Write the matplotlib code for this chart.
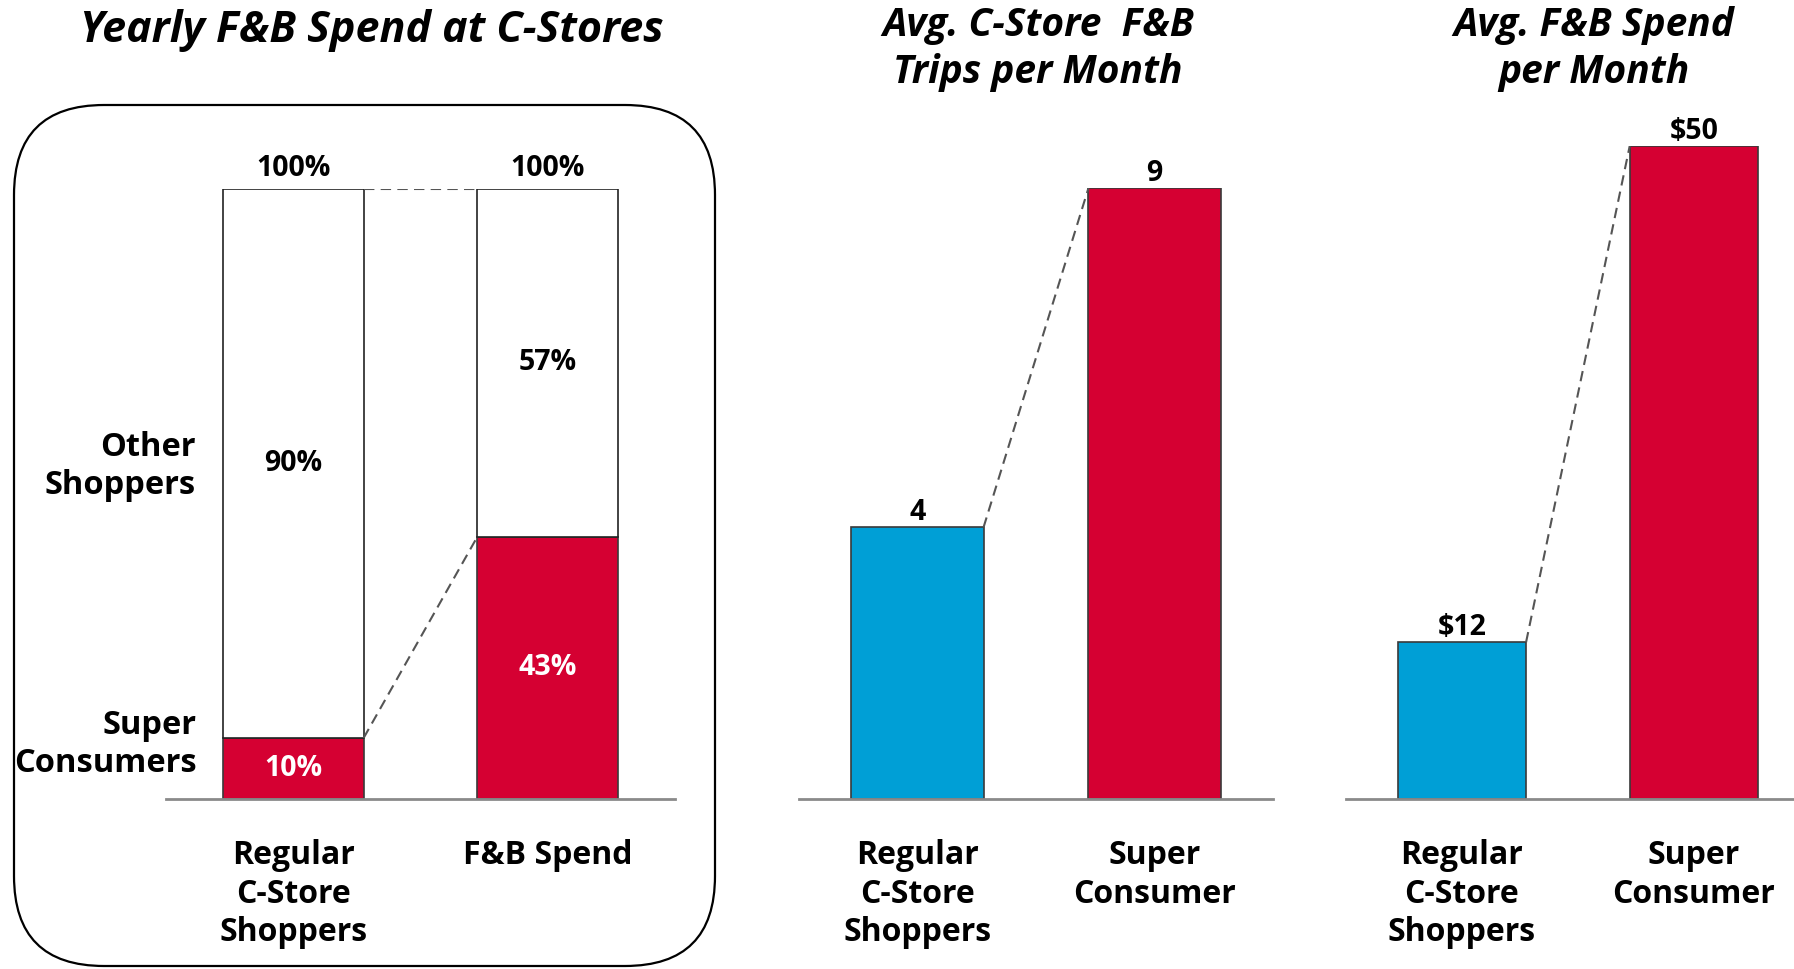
import matplotlib.pyplot as plt
from matplotlib.patches import FancyBboxPatch

plt.rcParams['font.family'] = ['Open Sans', 'DejaVu Sans']
plt.rcParams['font.weight'] = 'bold'

# data
share_cats = ["Regular\nC-Store\nShoppers", "F&B Spend"]
super_share = [10, 43]
other_share = [90, 57]
total_labels = ["100%", "100%"]

group_cats = ["Regular\nC-Store\nShoppers", "Super\nConsumer"]
trips = [4, 9]
spend = [12, 50]

RED = '#D50032'
BLUE = '#009FD6'
W, H = 1794, 969

fig = plt.figure(figsize=(W / 100, H / 100), dpi=100)

# rounded frame around first panel (pixel coords)
bg = fig.add_axes([0, 0, 1, 1])
bg.set_xlim(0, W)
bg.set_ylim(H, 0)
bg.axis('off')
bg.add_patch(FancyBboxPatch((14 + 90, 105 + 90), 701 - 180, 861 - 180,
                            boxstyle='round,pad=90', fc='none', ec='black', lw=1.6))


def px_axes(x0, x1, ybase, ytop):
    return fig.add_axes([x0 / W, (H - ybase) / H, (x1 - x0) / W, (ybase - ytop) / H])


def style(ax, cats):
    for s in ['top', 'right', 'left']:
        ax.spines[s].set_visible(False)
    ax.spines['bottom'].set_color('#8a8a8a')
    ax.spines['bottom'].set_linewidth(2)
    ax.set_yticks([])
    ax.set_xticks(range(len(cats)))
    ax.set_xticklabels(cats, fontsize=23, fontweight='bold', linespacing=1.22, va='top')
    ax.tick_params(axis='x', length=0, pad=29)
    ax.patch.set_visible(False)


# panel 1: stacked share
ax1 = px_axes(166, 675, 799, 189)
x = range(len(share_cats))
w1 = 0.553
ax1.bar(x, super_share, w1, color=RED, edgecolor='#3a3a3a', lw=1.2)
ax1.bar(x, other_share, w1, bottom=super_share, color='white', edgecolor='#222222', lw=1.2)
ax1.set_xlim(-0.5, 1.5)
ax1.set_ylim(0, 100)
style(ax1, share_cats)
for i in x:
    tot = super_share[i] + other_share[i]
    ax1.annotate(total_labels[i], (i, tot), xytext=(0, 4), textcoords='offset points',
                 ha='center', va='bottom', fontsize=20.5, fontweight='bold')
    ax1.text(i, super_share[i] / 2, f"{super_share[i]}%", ha='center', va='center',
             color='white', fontsize=20.5, fontweight='bold')
    ax1.text(i, super_share[i] + other_share[i] / 2, f"{other_share[i]}%", ha='center',
             va='center', fontsize=20.5, fontweight='bold')
ax1.plot([w1 / 2, 1 - w1 / 2], [100, 100], ls=(0, (5, 3)), color='#555555', lw=1.5)
ax1.plot([w1 / 2, 1 - w1 / 2], [super_share[0], super_share[1]], ls=(0, (5, 3)),
         color='#555555', lw=1.5)
ax1.text(-0.385, 54.5, "Other\nShoppers", ha='right', va='center', fontsize=23.5,
         fontweight='bold', linespacing=1.2)
ax1.text(-0.38, 8.9, "Super\nConsumers", ha='right', va='center', fontsize=23.5,
         fontweight='bold', linespacing=1.2)


def simple_panel(x0, x1, top_px, vals, ymax, fmt, xmax, width):
    ax = px_axes(x0, x1, 799, top_px)
    xs = range(len(vals))
    ax.bar(xs, vals, width, color=[BLUE, RED], edgecolor='#3a3a3a', lw=1.2)
    ax.set_xlim(-0.5, xmax)
    ax.set_ylim(0, ymax)
    style(ax, group_cats)
    for i in xs:
        ax.annotate(fmt.format(vals[i]), (i, vals[i]), xytext=(0, 0), textcoords='offset points',
                    ha='center', va='bottom', fontsize=20.5, fontweight='bold')
    ax.plot([width / 2, 1 - width / 2], vals, ls=(0, (5, 3)), color='#555555', lw=1.5)
    return ax


ax2 = simple_panel(799, 1273, 188, trips, 9, "{}", 1.5, 0.557)
ax3 = simple_panel(1346, 1794, 146, spend, 50, "${}", 1.432, 0.553)

# titles
tkw = dict(ha='center', va='center', fontweight='bold', style='italic')
fig.text(372 / W, 1 - 31 / H, "Yearly F&B Spend at C-Stores", fontsize=31, **tkw)
fig.text(1038 / W, 1 - 49 / H, "Avg. C-Store  F&B\nTrips per Month", fontsize=28,
         linespacing=1.27, **tkw)
fig.text(1594 / W, 1 - 49 / H, "Avg. F&B Spend\nper Month", fontsize=28,
         linespacing=1.27, **tkw)

fig.savefig('out.png', dpi=100)
